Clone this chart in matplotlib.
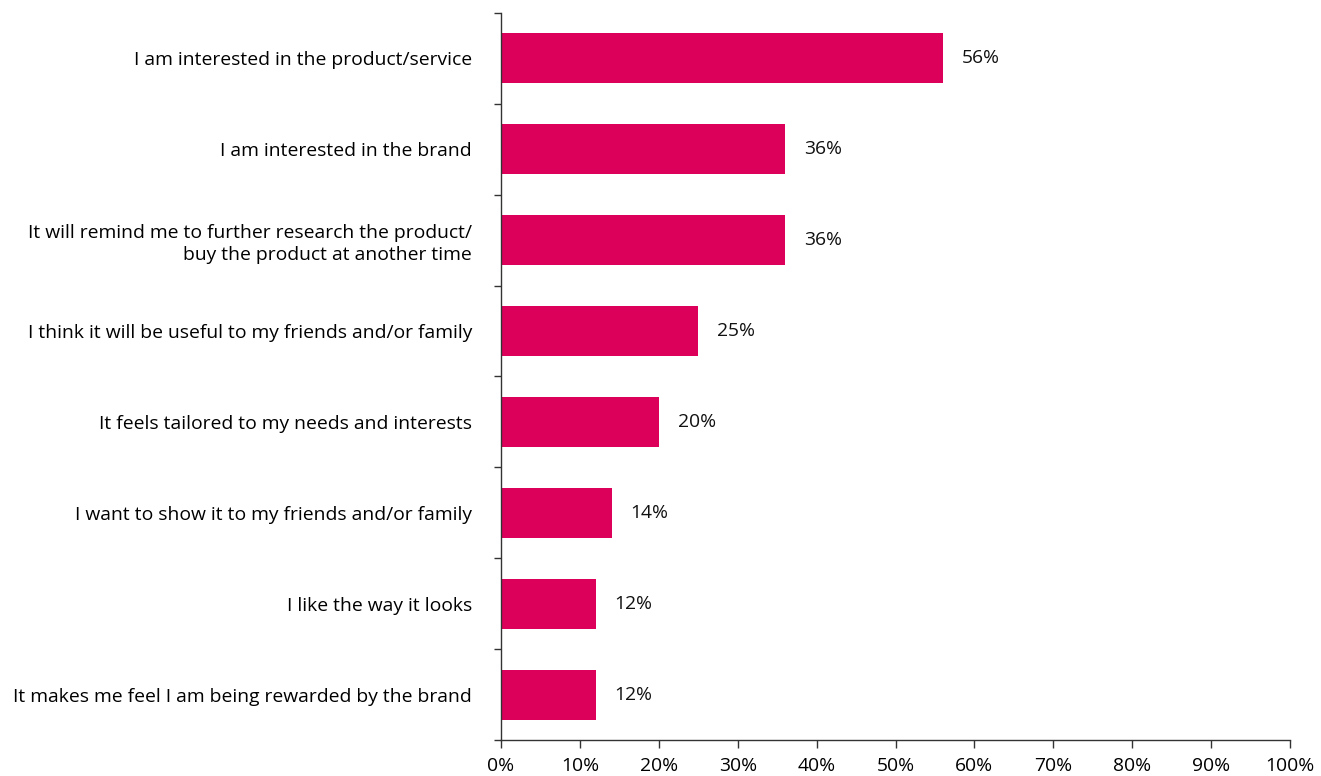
import matplotlib
matplotlib.use("Agg")
import matplotlib.pyplot as plt
import numpy as np

plt.rcParams["font.family"] = ["Open Sans", "DejaVu Sans"]

reasons = [
    "I am interested in the product/service",
    "I am interested in the brand",
    "It will remind me to further research the product/\nbuy the product at another time",
    "I think it will be useful to my friends and/or family",
    "It feels tailored to my needs and interests",
    "I want to show it to my friends and/or family",
    "I like the way it looks",
    "It makes me feel I am being rewarded by the brand",
]
shares = [56, 36, 36, 25, 20, 14, 12, 12]
xticks = list(range(0, 101, 10))

bar_color = "#DC005A"
fs = 13.9

fig = plt.figure(figsize=(13.21, 7.76), dpi=100)
ax = fig.add_axes([0.3793, 0.0464, 0.9765 - 0.3793, 0.9833 - 0.0464])

pos = np.arange(len(reasons))
ax.barh(pos, shares, height=0.55, color=bar_color)
for p, v in zip(pos, shares):
    ax.text(v + 2.4, p, f"{v}%", va="center", ha="left", fontsize=fs, color="#111111")

ax.set_xlim(0, 100)
ax.set_ylim(len(reasons) - 0.5, -0.5)
ax.set_xticks(xticks)
ax.set_xticklabels([f"{t}%" for t in xticks], fontsize=fs)

ax.set_yticks(pos)
ax.set_yticklabels(reasons, fontsize=fs, linespacing=1.25)
ax.tick_params(axis="y", which="major", length=0, pad=21)
ax.set_yticks(np.arange(-0.5, len(reasons), 1), minor=True)
ax.tick_params(axis="y", which="minor", length=5, width=1, color="#333333")
ax.tick_params(axis="x", length=6, width=1, color="#333333", pad=6)

for side in ["top", "right"]:
    ax.spines[side].set_visible(False)
for side in ["left", "bottom"]:
    ax.spines[side].set_color("#333333")
    ax.spines[side].set_linewidth(1)

fig.savefig("out.png", dpi=100)
